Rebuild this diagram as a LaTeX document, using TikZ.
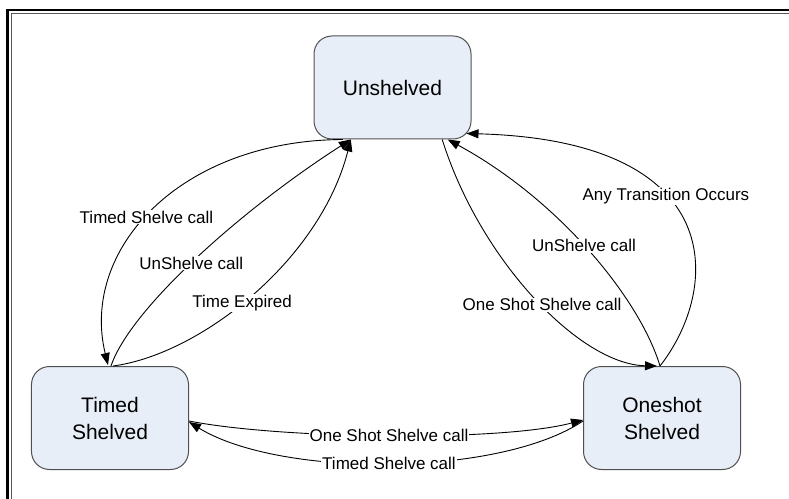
\documentclass[tikz,border=0pt]{standalone}
\usepackage{fontspec}
\setmainfont{Liberation Sans}
\usetikzlibrary{arrows.meta,calc}
\definecolor{boxfill}{RGB}{232,238,247}
\definecolor{boxline}{RGB}{80,80,80}
\begin{document}
\begin{tikzpicture}[x=1bp,y=-1bp,
  state/.style={draw=boxline, line width=1bp, fill=boxfill, rounded corners=18bp,
    minimum width=157bp, minimum height=103bp, align=center, inner sep=0pt,
    font=\fontsize{21bp}{27bp}\selectfont},
  trans/.style={draw=black, line width=0.9bp, -{Triangle[length=12bp,width=9bp]}},
  lbl/.style={fill=white, inner sep=1bp, font=\fontsize{17bp}{20bp}\selectfont}]
\useasboundingbox (0,0) rectangle (789,499);
% frame
\draw[line width=2.5bp] (7.5,499) -- (7.5,10) -- (789,10);
\draw[line width=1.3bp, draw=black!65] (11.7,499) -- (11.7,13.5) -- (789,13.5);
% states
\node[state] (U) at (392.5,87.5) {Unshelved};
\node[state] (T) at (110,418) {Timed\\Shelved};
\node[state] (O) at (662,418) {Oneshot\\Shelved};
% left group
\draw[trans] ($(U.south)+(-49.7,0)$) .. controls +(-163,1) and +(-28,-115.5) .. ($(T.north)+(-2,-1)$)
  node[lbl, pos=0.53] (l1) {Timed Shelve call};
\draw[trans] ($(T.north)+(1,0)$) .. controls +(19,-56.5) and +(-110.8,71) .. ($(U.south)+(-41.7,0)$)
  node[lbl, pos=0.48] (l2) {UnShelve call};
\draw[trans] ($(T.north)+(3,0)$) .. controls +(87,-11.5) and +(-30.8,121) .. ($(U.south)+(-41.7,0)$)
  node[lbl, pos=0.46] (l3) {Time Expired};
% right group
\draw[trans] ($(U.south)+(49.7,0)$) .. controls +(38,121) and +(-77,-1.5) .. ($(O.north)+(-5,0)$)
  node[lbl, pos=0.53] (l4) {One Shot Shelve call};
\draw[trans] ($(O.north)+(-2,0)$) .. controls +(-20,-66.5) and +(112.3,61) .. ($(U.south)+(55.2,0)$)
  node[lbl, pos=0.52] (l5) {UnShelve call};
\draw[trans] ($(O.north)+(-2,0)$) .. controls +(60,-76.5) and +(264,7) .. ($(U.south east)+(-5,-6)$)
  node[lbl, pos=0.6] (l6) {Any Transition Occurs};
% bottom
\draw[trans] ($(T.east)+(0,3)$) .. controls +(91.5,18) and +(-83.5,22) .. ($(O.west)+(0,2)$)
  node[lbl, pos=0.5] (l7) {One Shot Shelve call};
\draw[trans] ($(O.west)+(0,3)$) .. controls +(-83.5,56) and +(91.5,56) .. ($(T.east)+(0,4)$)
  node[lbl, pos=0.5] (l8) {Timed Shelve call};
\end{tikzpicture}
\end{document}
